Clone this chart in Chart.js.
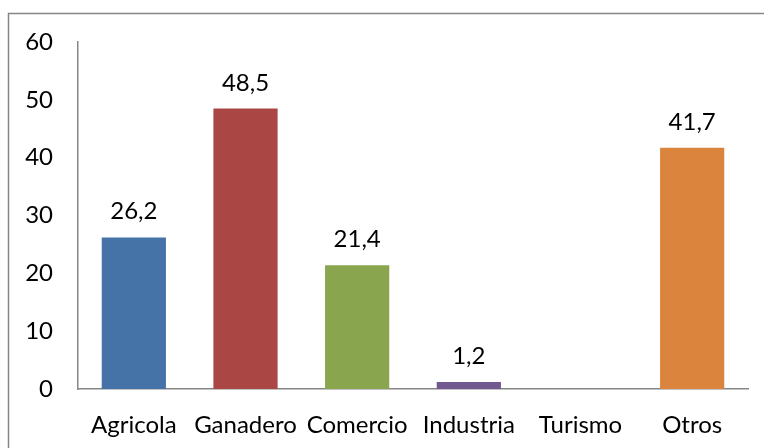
<!DOCTYPE html>
<html>
<head>
<meta charset="utf-8">
<script src="https://cdn.jsdelivr.net/npm/chart.js@4.4.1/dist/chart.umd.min.js"></script>
<style>
  html, body { margin: 0; padding: 0; background: #fff; }
  #wrap { width: 764px; height: 448px; position: relative; }
</style>
</head>
<body>
<div id="wrap"><canvas id="chart"></canvas></div>
<script>
const categories = ['Agricola', 'Ganadero', 'Comercio', 'Industria', 'Turismo', 'Otros'];
const values = [26.2, 48.5, 21.4, 1.2, 0, 41.7];
const barColors = ['#4572A7', '#AA4643', '#89A54E', '#71588F', '#4198AF', '#DB843D'];
const yTicks = [0, 10, 20, 30, 40, 50, 60];

const FONT = 'Lato, "Open Sans", sans-serif';

// grey frame round the whole chart
const framePlugin = {
    id: 'frame',
    beforeDraw(chart) {
        const ctx = chart.ctx;
        ctx.save();
        ctx.strokeStyle = '#868686';
        ctx.lineWidth = 1.5;
        ctx.strokeRect(8.5, 13.5, chart.width + 10, chart.height + 10);
        ctx.restore();
    }
};

// value labels above the bars, decimal comma
const labelPlugin = {
    id: 'valueLabels',
    afterDatasetsDraw(chart) {
        const ctx = chart.ctx;
        const meta = chart.getDatasetMeta(0);
        ctx.save();
        ctx.font = '24px ' + FONT;
        ctx.fillStyle = '#000';
        ctx.textAlign = 'center';
        ctx.textBaseline = 'alphabetic';
        meta.data.forEach((bar, i) => {
            if (!values[i]) return;
            ctx.fillText(values[i].toFixed(1).replace('.', ','), bar.x, bar.y - 18);
        });
        ctx.restore();
    }
};

new Chart(document.getElementById('chart'), {
    type: 'bar',
    data: {
        labels: categories,
        datasets: [{
            data: values,
            backgroundColor: barColors,
            barPercentage: 0.575,
            categoryPercentage: 1
        }]
    },
    options: {
        responsive: true,
        maintainAspectRatio: false,
        animation: false,
        layout: { padding: { left: 0, right: 16, top: 42, bottom: 0 } },
        plugins: { legend: { display: false }, tooltip: { enabled: false } },
        scales: {
            x: {
                grid: { display: false, drawTicks: false },
                border: { color: '#868686', width: 1.5 },
                ticks: { color: '#000', font: { family: FONT, size: 24 }, padding: 22, maxRotation: 0 },
                afterFit(scale) { scale.height = 59; }
            },
            y: {
                min: 0,
                max: 60,
                afterBuildTicks(scale) { scale.ticks = yTicks.map(v => ({ value: v })); },
                grid: { display: false, drawTicks: false },
                border: { color: '#868686', width: 1.5 },
                ticks: { color: '#000', font: { family: FONT, size: 24 }, padding: 25 },
                afterFit(scale) { scale.width = 78; }
            }
        }
    },
    plugins: [framePlugin, labelPlugin]
});
</script>
</body>
</html>
